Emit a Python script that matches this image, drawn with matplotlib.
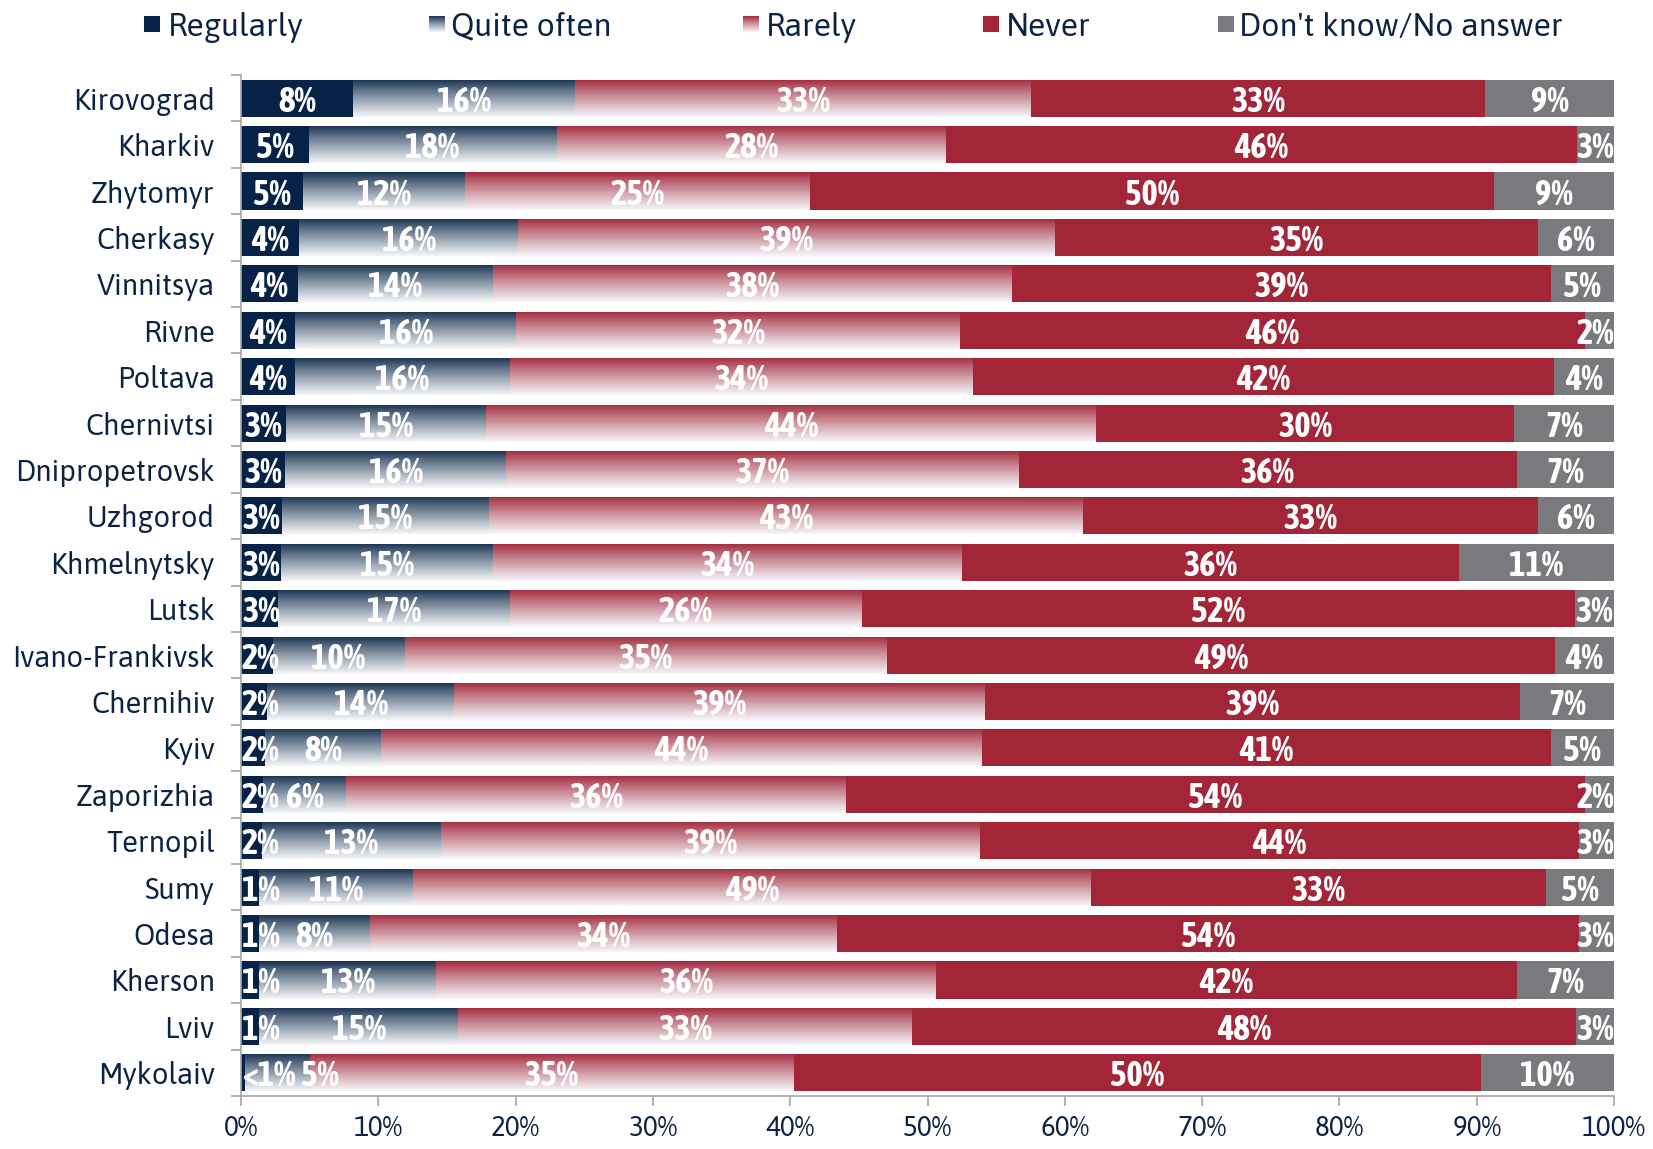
import numpy as np
import matplotlib
matplotlib.use("Agg")
import matplotlib.pyplot as plt
from matplotlib import font_manager
from matplotlib.colors import to_rgb

regions = ["Kirovograd", "Kharkiv", "Zhytomyr", "Cherkasy", "Vinnitsya", "Rivne",
           "Poltava", "Chernivtsi", "Dnipropetrovsk", "Uzhgorod", "Khmelnytsky",
           "Lutsk", "Ivano-Frankivsk", "Chernihiv", "Kyiv", "Zaporizhia", "Ternopil",
           "Sumy", "Odesa", "Kherson", "Lviv", "Mykolaiv"]

regularly = [8.15, 4.92, 4.53, 4.23, 4.15, 3.92, 3.92, 3.30, 3.23, 3.00, 2.92,
             2.69, 2.30, 1.92, 1.77, 1.60, 1.52, 1.31, 1.31, 1.31, 1.31, 0.30]
quite_often = [16.14, 18.06, 11.77, 15.98, 14.22, 16.14, 15.68, 14.53, 16.06, 15.06, 15.40,
               16.91, 9.61, 13.60, 8.45, 6.07, 13.03, 11.22, 8.07, 12.91, 14.52, 4.70]
rarely = [33.28, 28.40, 25.13, 39.05, 37.82, 32.28, 33.74, 44.45, 37.36, 43.28, 34.20,
          25.60, 35.13, 38.66, 43.74, 36.37, 39.30, 49.40, 34.05, 36.43, 33.06, 35.28]
never = [33.05, 45.90, 49.81, 35.21, 39.20, 45.58, 42.26, 30.45, 36.28, 33.10, 36.18,
         51.96, 48.66, 38.97, 41.43, 53.88, 43.60, 33.15, 54.03, 42.28, 48.34, 50.02]
dont_know = [9.38, 2.72, 8.76, 5.53, 4.61, 2.08, 4.40, 7.27, 7.07, 5.56, 11.30,
             2.84, 4.30, 6.85, 4.61, 2.08, 2.55, 4.92, 2.54, 7.07, 2.77, 9.70]

series_names = ["Regularly", "Quite often", "Rarely", "Never", "Don't know/No answer"]

NAVY = "#062347"
QO_TOP = "#15304f"
RED = "#a22538"
R_TOP = "#a3273a"
GREY = "#7a7a7e"
TEXT = "#0c2443"

names = {f.name for f in font_manager.fontManager.ttflist}
fams = [f for f in ["Asap", "Asap Condensed", "Liberation Sans"] if f in names]
plt.rcParams['font.family'] = fams + ['DejaVu Sans']
bold_fams = [f for f in ["Asap Condensed", "Liberation Sans"] if f in names] + ['DejaVu Sans']


def gradient(top, n=64):
    t = np.linspace(0, 1, n)[:, None] ** 0.9
    c0 = np.array(to_rgb(top))
    c1 = np.array([0.96, 0.965, 0.975])
    g = c0 * (1 - t) + c1 * t
    return np.repeat(g[:, None, :], 2, axis=1).reshape(n, 2, 3)


def fmt(v):
    return "<1%" if v < 0.5 else f"{v:.0f}%"


fig = plt.figure(figsize=(16.53, 11.49), dpi=100)
ax = fig.add_axes([241 / 1653, 53 / 1149, 1373 / 1653, 1021 / 1149])

y = np.arange(len(regions))
data = [regularly, quite_often, rarely, never, dont_know]
colors = [NAVY, "none", "none", RED, GREY]
grads = [None, QO_TOP, R_TOP, None, None]

left = np.zeros(len(regions))
bars = []
for vals, col, gtop in zip(data, colors, grads):
    vals = np.array(vals)
    b = ax.barh(y, vals, left=left, height=0.8, color=col, edgecolor="none")
    if gtop is not None:
        img = gradient(gtop)
        for p in b.patches:
            x0, y0, w, h = p.get_x(), p.get_y(), p.get_width(), p.get_height()
            im = ax.imshow(img, extent=(x0, x0 + w, y0 + h, y0), origin="upper",
                           aspect="auto", interpolation="bilinear", zorder=1)
            im.set_clip_path(p)
    bars.append((vals, left.copy()))
    left = left + vals

ax.set_xlim(0, 100)
ax.set_ylim(len(regions) - 0.5, -0.5)

ax.set_xticks(np.arange(0, 101, 10))
ax.set_xticklabels([f"{v}%" for v in range(0, 101, 10)])
ax.set_yticks(y)
ax.set_yticklabels(regions)
ax.set_yticks(np.arange(-0.5, len(regions), 1), minor=True)
ax.tick_params(axis="y", which="major", length=0, pad=19, labelsize=21, labelcolor=TEXT)
ax.tick_params(axis="y", which="minor", length=7, color="#a6a6a6", width=1.2, direction="out")
ax.tick_params(axis="x", length=7, color="#a6a6a6", width=1.2, pad=7, labelsize=20, labelcolor=TEXT)
for s in ["top", "right"]:
    ax.spines[s].set_visible(False)
for s in ["left", "bottom"]:
    ax.spines[s].set_color("#a6a6a6")
    ax.spines[s].set_linewidth(1.2)

# segment labels
texts = []
for i in range(len(regions)):
    row = []
    for k, (vals, lefts) in enumerate(bars):
        t = ax.text(lefts[i] + vals[i] / 2, i, fmt(vals[i]), ha="center", va="center_baseline",
                    color="white", fontsize=25, fontweight="bold", family=bold_fams, zorder=3)
        row.append(t)
    texts.append(row)

fig.canvas.draw()
r = fig.canvas.get_renderer()
axb = ax.get_window_extent(r)
inv = ax.transData.inverted()
for i, row in enumerate(texts):
    prev_right = None
    n = len(row)
    for k, t in enumerate(row):
        bb = t.get_window_extent(r)
        cx = (bb.x0 + bb.x1) / 2
        hw = bb.width / 2
        if k == 0 and bb.x0 < axb.x0 + 1:
            cx = axb.x0 + 1 + hw
        if prev_right is not None and cx - hw < prev_right + 6:
            cx = prev_right + 6 + hw
        if k == n - 1 and cx + hw > axb.x1:
            cx = axb.x1 - hw
        xd = inv.transform((cx, 0))[0]
        t.set_x(xd)
        prev_right = cx + hw

# legend drawn in figure pixel space
lax = fig.add_axes([0, 0, 1, 1], zorder=5)
lax.set_xlim(0, 1653)
lax.set_ylim(1149, 0)
lax.axis("off")
sw_x = [144, 429, 743, 983, 1218]
tx_x = [168, 451, 766, 1006, 1239]
ly = 24
sz = 16
for name, col, gtop, sx, tx in zip(series_names, colors, grads, sw_x, tx_x):
    if gtop is None:
        lax.add_patch(plt.Rectangle((sx, ly - sz / 2), sz, sz, color=col, lw=0))
    else:
        lax.imshow(gradient(gtop), extent=(sx, sx + sz, ly + sz / 2, ly - sz / 2),
                   origin="upper", aspect="auto", interpolation="bilinear")
    lax.text(tx, ly, name, ha="left", va="center_baseline", fontsize=23, color=TEXT)
lax.set_xlim(0, 1653)
lax.set_ylim(1149, 0)

fig.savefig("out.png", dpi=100)
